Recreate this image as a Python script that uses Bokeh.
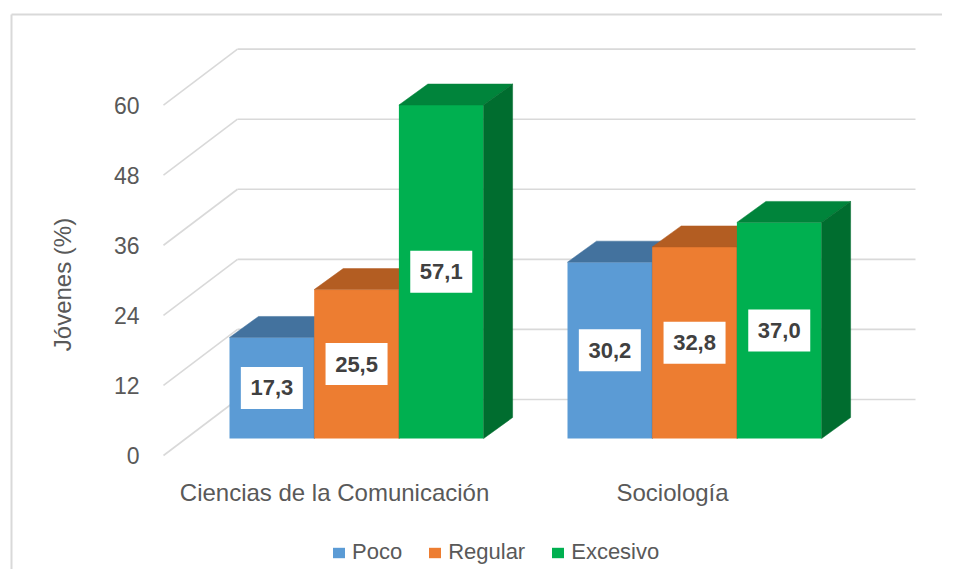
from bokeh.plotting import figure
from bokeh.models import Range1d, Legend, LegendItem, ColumnDataSource
from bokeh.core.properties import value
from bokeh.embed import file_html
from bokeh.resources import INLINE

# ---------------- data ----------------
categories = ["Ciencias de la Comunicación", "Sociología"]
series_names = ["Poco", "Regular", "Excesivo"]
poco = [17.3, 30.2]
regular = [25.5, 32.8]
excesivo = [57.1, 37.0]
y_ticks = [0, 12, 24, 36, 48, 60]
y_title = "Jóvenes (%)"

# ---------------- styling / layout ----------------
FONT = "Liberation Sans"
TXT = "#595959"
GRID = "#D9D9D9"
front_cols = ["#5B9BD5", "#ED7D31", "#00B050"]
top_cols = ["#43729E", "#B35D22", "#00843B"]
side_cols = ["#3A6489", "#9C501D", "#006D2F"]

W, H = 942, 569
PXU = 5.84            # screen px per data unit
FRONT0 = 455.0        # screen y of value 0 on the front plane


def v_of(py):
    return (FRONT0 - py) / PXU


WALL_DX = 74.0                 # depth offset of back wall (px)
WALL_DY = 56.0 / PXU           # depth offset of back wall (units)
AX_X0 = 163.0
WALL_X1 = 915.0
BAR_FDY = 17.0 / PXU           # bar front plane offset (units)
BAR_FDX = 22.0                 # bar front plane offset (px)
BAR_DX = 29.0                  # bar depth (px)
BAR_DY = 21.0 / PXU            # bar depth (units)
BAR_W = 84.7
group_left = [229.0, 567.0]

p = figure(width=W, height=H, x_range=Range1d(0, W),
           y_range=Range1d(v_of(H), v_of(0)),
           output_backend="svg", toolbar_location=None,
           x_axis_type=None, y_axis_type=None, min_border=0,
           outline_line_color=None, background_fill_color="white",
           border_fill_color="white")
p.grid.visible = False

# chart border (left and top visible)
p.segment(x0=[11, 11], y0=[v_of(14), v_of(14)], x1=[11, 960], y1=[v_of(600), v_of(14)],
          line_color=GRID, line_width=2)

# gridlines: diagonal from front axis to back wall, then along back wall
diag = ColumnDataSource(dict(
    x0=[AX_X0] * len(y_ticks), y0=y_ticks,
    x1=[AX_X0 + WALL_DX] * len(y_ticks), y1=[t + WALL_DY for t in y_ticks]))
p.segment("x0", "y0", "x1", "y1", source=diag, line_color=GRID, line_width=1.6)
back = ColumnDataSource(dict(
    x0=[AX_X0 + WALL_DX] * len(y_ticks), y0=[t + WALL_DY for t in y_ticks],
    x1=[WALL_X1] * len(y_ticks), y1=[t + WALL_DY for t in y_ticks]))
p.segment("x0", "y0", "x1", "y1", source=back, line_color=GRID, line_width=1.6)

# tick labels
p.text(x=[139] * len(y_ticks), y=y_ticks, text=[str(t) for t in y_ticks],
       text_align="right", text_baseline="middle", text_font=value(FONT),
       text_font_size="23px", text_color=TXT)

# axis title
p.text(x=[62], y=[v_of(284)], text=[y_title], angle=1.5707963,
       text_align="center", text_baseline="middle", text_font=value(FONT),
       text_font_size="24px", text_color=TXT)

# bars
series_vals = [poco, regular, excesivo]
legend_items = []
label_x, label_y, label_t = [], [], []
for si, vals in enumerate(series_vals):
    x0 = [g + si * BAR_W for g in group_left]
    x1 = [x + BAR_W for x in x0]
    yb = [BAR_FDY] * len(vals)
    yt = [BAR_FDY + v for v in vals]
    r = p.quad(left=x0, right=x1, bottom=yb, top=yt,
               fill_color=front_cols[si], line_color=None)
    legend_items.append(LegendItem(label=series_names[si], renderers=[r]))
    tops_x = [[a, b, b + BAR_DX, a + BAR_DX] for a, b in zip(x0, x1)]
    tops_y = [[t, t, t + BAR_DY, t + BAR_DY] for t in yt]
    p.patches(tops_x, tops_y, fill_color=top_cols[si], line_color=top_cols[si], line_width=0.5)
    side_x = [[b, b + BAR_DX, b + BAR_DX, b] for b in x1]
    side_y = [[bb, bb + BAR_DY, t + BAR_DY, t] for bb, t in zip(yb, yt)]
    p.patches(side_x, side_y, fill_color=side_cols[si], line_color=side_cols[si], line_width=0.5)
    for a, v in zip(x0, vals):
        label_x.append(a + BAR_W / 2)
        label_y.append(BAR_FDY + v / 2)
        label_t.append(f"{v:.1f}".replace(".", ","))

# data labels
p.rect(x=label_x, y=label_y, width=62, height=42, width_units="screen",
       height_units="screen", fill_color="white", line_color=None)
p.text(x=label_x, y=label_y, text=label_t, text_align="center", text_baseline="middle",
       text_font=value(FONT), text_font_style="bold", text_font_size="22px",
       text_color="#404040")

# category labels
cat_x = [g + 1.5 * BAR_W - BAR_FDX for g in group_left]
p.text(x=cat_x, y=[v_of(492)] * len(categories), text=categories,
       text_align="center", text_baseline="middle", text_font=value(FONT),
       text_font_size="24px", text_color=TXT)

legend = Legend(items=legend_items, orientation="horizontal", location=(331, 4),
                background_fill_alpha=0, border_line_color=None, padding=0, margin=0,
                spacing=25, label_standoff=6, glyph_width=15, glyph_height=13,
                label_text_font_size="22px", label_text_color=TXT,
                label_text_font=FONT)
p.add_layout(legend)

open("out.html", "w").write(file_html(p, INLINE))
